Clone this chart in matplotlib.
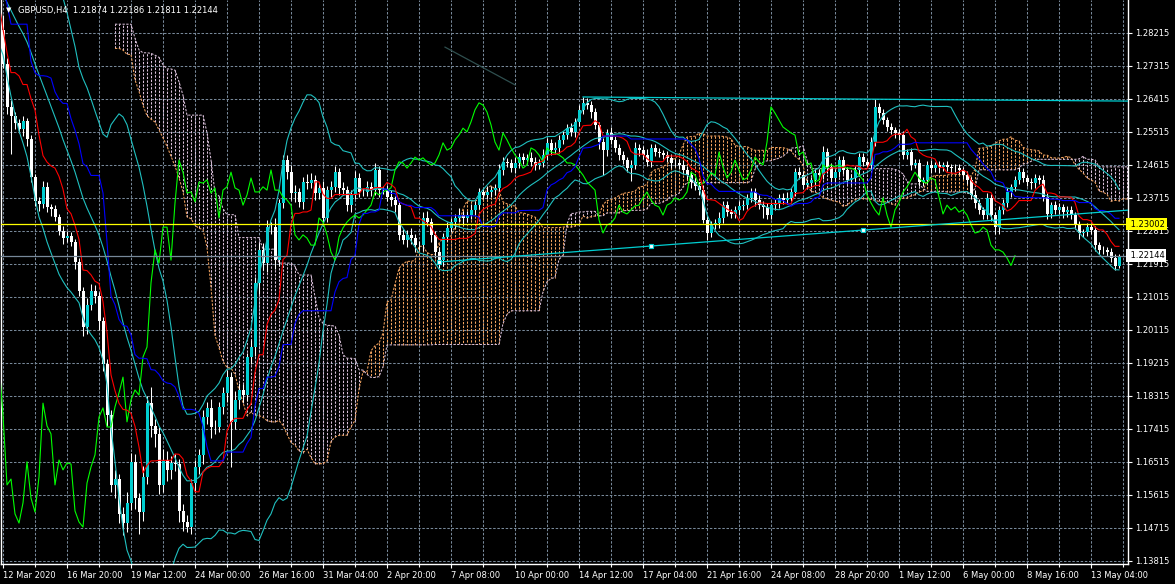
import numpy as np
import pandas as pd
import matplotlib
matplotlib.use("Agg")
import matplotlib.pyplot as plt
import matplotlib.transforms as mtransforms

plt.rcParams["font.family"] = ["DejaVu Sans"]

# header of the chart window
symbol = "GBPUSD,H4"
last_bar = ["1.21874", "1.22186", "1.21811", "1.22144"]

# 49 H4 bars before 12 Mar 2020 - off screen, they only warm up the indicators
# prices are in points (1 pt = 0.0001)
pre_close = [12830, 12790, 12760, 12740, 12800, 12820, 12780, 12760, 12790, 12770,
             12800, 12780, 12810, 12850, 12900, 12860, 12820, 12800, 12810, 12790,
             12830, 12850, 12840, 12830, 12860, 12900, 12950, 13000, 13050, 13080,
             13050, 13040, 13010, 12990, 12980, 12990, 12995, 12980, 12950, 12970,
             12930, 12920, 12890, 12880, 12910, 12840, 12830, 12810, 12830]
pre_upper_wick = [15, 12, 10, 14, 12, 15, 10, 12, 14, 10,
                  12, 10, 15, 14, 12, 10, 12, 10, 14, 12,
                  10, 12, 10, 14, 12, 15, 12, 14, 15, 20,
                  120, 10, 8, 10, 8, 6, 80, 5, 8, 6,
                  42, 5, 4, 6, 26, 8, 10, 12, 30]
pre_lower_wick = [20, 25, 15, 20, 10, 15, 20, 15, 12, 18,
                  10, 15, 12, 10, 15, 20, 15, 12, 10, 15,
                  12, 10, 15, 12, 10, 12, 15, 10, 12, 15,
                  20, 15, 12, 10, 15, 12, 10, 15, 12, 10,
                  15, 12, 10, 15, 12, 20, 15, 18, 12]
first_open = 12850

# visible bars, 12 Mar 2020 .. 13 May 2020
close_pts = [12737, 12620, 12595, 12576, 12560, 12582, 12532, 12429, 12363, 12355,
             12402, 12347, 12342, 12320, 12282, 12262, 12268, 12252, 12197, 12118,
             12020, 12080, 12118, 12104, 12036, 11919, 11780, 11589, 11605, 11510,
             11485, 11540, 11652, 11553, 11515, 11611, 11812, 11750, 11728, 11589,
             11657, 11630, 11649, 11646, 11518, 11488, 11474, 11594, 11638, 11671,
             11774, 11799, 11747, 11747, 11802, 11840, 11883, 11761, 11821, 11848,
             11834, 11938, 11965, 12140, 12230, 12194, 12292, 12292, 12202, 12358,
             12475, 12442, 12385, 12388, 12361, 12415, 12412, 12421, 12385, 12399,
             12317, 12393, 12402, 12442, 12399, 12393, 12352, 12380, 12426, 12388,
             12388, 12402, 12393, 12448, 12393, 12393, 12374, 12366, 12352, 12271,
             12257, 12271, 12262, 12243, 12243, 12317, 12306, 12271, 12224, 12202,
             12265, 12290, 12306, 12317, 12325, 12317, 12325, 12339, 12352, 12388,
             12380, 12388, 12393, 12399, 12448, 12470, 12467, 12453, 12467, 12483,
             12475, 12481, 12470, 12462, 12467, 12489, 12522, 12502, 12508, 12530,
             12543, 12562, 12552, 12579, 12612, 12631, 12625, 12606, 12571, 12524,
             12502, 12549, 12530, 12508, 12489, 12475, 12453, 12462, 12508, 12502,
             12489, 12470, 12508, 12497, 12494, 12489, 12481, 12467, 12467, 12462,
             12448, 12434, 12415, 12404, 12393, 12312, 12276, 12298, 12303, 12317,
             12352, 12333, 12328, 12339, 12350, 12352, 12372, 12388, 12366, 12352,
             12347, 12325, 12352, 12358, 12372, 12366, 12372, 12388, 12442, 12434,
             12407, 12412, 12421, 12440, 12434, 12497, 12456, 12426, 12442, 12475,
             12448, 12421, 12426, 12448, 12483, 12470, 12462, 12524, 12620, 12603,
             12584, 12565, 12557, 12549, 12543, 12489, 12497, 12462, 12467, 12415,
             12421, 12462, 12453, 12462, 12456, 12462, 12456, 12453, 12453, 12448,
             12434, 12421, 12380, 12358, 12339, 12325, 12372, 12325, 12292, 12339,
             12358, 12388, 12402, 12421, 12442, 12426, 12415, 12412, 12426, 12421,
             12374, 12328, 12352, 12339, 12347, 12333, 12339, 12325, 12298, 12276,
             12279, 12292, 12284, 12243, 12230, 12230, 12224, 12208, 12187.4, 12214.4]
upper_wick = [41, 15, 19, 12, 10, 14, 9, 12, 8, 10,
              15, 12, 8, 10, 9, 12, 14, 10, 8, 12,
              10, 18, 20, 16, 12, 10, 14, 12, 25, 15,
              20, 30, 25, 20, 15, 30, 20, 45, 20, 18,
              30, 25, 20, 25, 15, 20, 18, 12, 20, 15,
              20, 15, 25, 18, 12, 15, 20, 15, 25, 20,
              15, 12, 18, 15, 20, 18, 20, 15, 25, 12,
              14, 15, 20, 18, 12, 15, 22, 18, 12, 15,
              20, 12, 15, 18, 12, 15, 10, 12, 20, 15,
              10, 15, 12, 18, 10, 12, 15, 20, 12, 10,
              15, 12, 18, 10, 12, 15, 20, 12, 10, 15,
              12, 15, 10, 12, 18, 10, 12, 15, 10, 12,
              10, 15, 12, 10, 15, 12, 10, 12, 15, 10,
              12, 10, 15, 12, 10, 15, 12, 10, 15, 12,
              10, 12, 15, 10, 12, 16, 12, 10, 12, 8,
              10, 12, 15, 10, 12, 10, 8, 12, 15, 10,
              12, 15, 10, 12, 10, 8, 12, 10, 12, 10,
              12, 10, 8, 12, 10, 15, 12, 10, 12, 15,
              10, 12, 8, 10, 12, 15, 10, 12, 10, 15,
              12, 10, 8, 12, 10, 12, 15, 10, 12, 15,
              12, 10, 8, 12, 10, 15, 12, 10, 8, 12,
              10, 8, 12, 10, 12, 10, 8, 15, 21, 10,
              12, 8, 10, 8, 12, 10, 8, 10, 12, 10,
              8, 10, 12, 8, 10, 8, 10, 8, 12, 10,
              8, 10, 8, 12, 10, 8, 12, 10, 8, 12,
              10, 12, 8, 10, 15, 10, 8, 12, 10, 8,
              12, 10, 8, 12, 10, 8, 10, 12, 8, 10,
              8, 10, 12, 10, 8, 10, 8, 10, 12, 4.2]
lower_wick = [10, 20, 104, 15, 12, 20, 18, 15, 12, 20,
              12, 15, 20, 10, 12, 15, 10, 12, 20, 15,
              25, 20, 15, 20, 25, 20, 30, 20, 35, 25,
              33, 25, 20, 30, 60, 25, 20, 30, 35, 25,
              20, 30, 25, 20, 30, 25, 14, 20, 25, 20,
              25, 20, 30, 20, 15, 20, 25, 123, 20, 25,
              20, 15, 20, 25, 30, 20, 25, 20, 25, 15,
              15, 20, 18, 25, 15, 20, 15, 12, 20, 15,
              15, 12, 18, 15, 20, 12, 15, 18, 12, 15,
              12, 10, 15, 12, 18, 10, 12, 15, 20, 15,
              12, 20, 15, 18, 12, 15, 12, 20, 15, 22,
              15, 12, 10, 15, 12, 18, 10, 12, 15, 10,
              12, 10, 15, 12, 10, 15, 12, 10, 12, 15,
              10, 12, 10, 15, 12, 10, 15, 12, 10, 15,
              12, 10, 12, 15, 10, 12, 10, 15, 12, 20,
              68, 15, 12, 10, 15, 12, 10, 35, 12, 15,
              10, 12, 15, 10, 12, 10, 12, 15, 10, 12,
              10, 12, 15, 10, 12, 10, 20, 12, 10, 12,
              15, 10, 12, 10, 15, 12, 10, 12, 15, 10,
              30, 12, 10, 12, 15, 10, 12, 10, 12, 10,
              10, 12, 15, 10, 12, 10, 15, 12, 10, 12,
              12, 10, 15, 12, 10, 12, 10, 12, 10, 12,
              10, 12, 10, 15, 12, 10, 12, 15, 10, 12,
              12, 10, 12, 10, 15, 12, 10, 12, 10, 12,
              12, 10, 12, 15, 10, 12, 10, 15, 20, 20,
              12, 10, 15, 12, 10, 12, 10, 15, 12, 10,
              12, 15, 10, 12, 10, 15, 12, 10, 12, 15,
              12, 10, 12, 15, 12, 10, 12, 10, 12, 6.3]

time_labels = ["12 Mar 2020", "16 Mar 20:00", "19 Mar 12:00", "24 Mar 00:00",
               "26 Mar 16:00", "31 Mar 04:00", "2 Apr 20:00", "7 Apr 08:00",
               "10 Apr 00:00", "14 Apr 12:00", "17 Apr 04:00", "21 Apr 16:00",
               "24 Apr 08:00", "28 Apr 20:00", "1 May 12:00", "6 May 00:00",
               "8 May 16:00", "13 May 04:00"]
price_ticks = [1.13815, 1.14715, 1.15615, 1.16515, 1.17415, 1.18315, 1.19215,
               1.20115, 1.21015, 1.21915, 1.22815, 1.23715, 1.24615, 1.25515,
               1.26415, 1.27315, 1.28215]
alert_level = 1.23002
bid_level = 1.22144
top_trend = [(145, 1.2647), (218, 1.2641)]
low_trend = [(109, 1.2197), (215, 1.2284)]
old_trend = [(110.5, 1.2783), (128, 1.2680)]

CYAN = "#00ced1"
BAND = "#20c0c0"
GRID = "#778899"

# ---- build OHLC ----
n_pre = len(pre_close)
closes = np.array(pre_close + close_pts) / 1e4
up = np.array(pre_upper_wick + upper_wick) / 1e4
dn = np.array(pre_lower_wick + lower_wick) / 1e4
opens = np.r_[first_open / 1e4, closes[:-1]]
highs = np.maximum(opens, closes) + up
lows = np.minimum(opens, closes) - dn
idx = np.arange(len(closes)) - n_pre
df = pd.DataFrame({"o": opens, "h": highs, "l": lows, "c": closes}, index=idx)


def midline(period):
    return (df.h.rolling(period).max() + df.l.rolling(period).min()) / 2


tenkan = midline(9)
kijun = midline(26)
span_a = (tenkan + kijun) / 2
span_b = midline(52)
sma = df.c.rolling(20).mean()
sd = df.c.rolling(20).std(ddof=0)

# ---- figure ----
fig = plt.figure(figsize=(11.75, 5.84), dpi=100, facecolor="black")
ax = fig.add_axes([1 / 1175, 20 / 584, 1127 / 1175, 564 / 584])
ax.set_facecolor("black")
x_min, x_max = -0.5, 281.25
ax.set_xlim(x_min, x_max)
ax.set_ylim(1.13733, 1.29115)

dash = (0, (2.4, 1.6))
ax.hlines(price_ticks, x_min, x_max, colors=GRID, linestyles=dash, lw=0.75, zorder=0)
ax.vlines(np.arange(0, 282, 8), 1.13733, 1.29115, colors=GRID, linestyles=dash, lw=0.75, zorder=0)

# kumo: dotted histogram between span A and span B
ok = span_a.notna() & span_b.notna()
xs = idx[ok.values] + 26
a = span_a[ok].values
b = span_b[ok].values
hatch_cols = ["#f4a460" if aa > bb else "#d8bfd8" for aa, bb in zip(a, b)]
ax.vlines(xs, a, b, colors=hatch_cols, linestyles=(0, (2.2, 1.4)), lw=0.75, zorder=1)
ax.plot(xs, a, color="#f4a460", lw=0.75, ls=(0, (2.2, 1.4)), zorder=1.1)
ax.plot(xs, b, color="#d8bfd8", lw=0.75, ls=(0, (2.2, 1.4)), zorder=1.1)

# candles
vis = idx >= 0
o, h, l, c, xi = opens[vis], highs[vis], lows[vis], closes[vis], idx[vis]
ax.vlines(xi, l, h, colors="white", lw=0.75, zorder=3)
bull = c > o
ax.bar(xi[bull], (c - o)[bull], bottom=o[bull], width=0.75, color=CYAN, lw=0, zorder=3.2)
ax.bar(xi[~bull], (o - c)[~bull], bottom=c[~bull], width=0.75, color="white", lw=0, zorder=3.2)

# bollinger bands 20/2
for line in (sma, sma + 2 * sd, sma - 2 * sd):
    ax.plot(idx, line.values, color=BAND, lw=0.8, zorder=4)

# ichimoku lines
ax.plot(idx, tenkan.values, color="#ff0000", lw=0.8, zorder=4.2)
ax.plot(idx, kijun.values, color="#0000ff", lw=0.8, zorder=4.2)
ax.plot(idx - 26, closes, color="#00ff00", lw=0.8, zorder=4.1)

# horizontal levels
ax.axhline(alert_level, color="#ffff00", lw=0.9, zorder=5)
ax.axhline(bid_level, color=GRID, lw=0.9, zorder=5)


def ray(points, color, marks=False):
    (x1, y1), (x2, y2) = points
    k = (y2 - y1) / (x2 - x1)
    ax.plot([x1, x_max], [y1, y1 + k * (x_max - x1)], color=color, lw=0.9, zorder=5)
    if marks:
        mx = [x1, (x1 + x2) / 2, x2]
        ax.plot(mx, [y1 + k * (m - x1) for m in mx], "s", ms=3.2, mfc="white",
                mec=CYAN, mew=0.8, zorder=6)


ray(top_trend, CYAN)
ray(low_trend, CYAN, marks=True)
ax.plot([p[0] for p in old_trend], [p[1] for p in old_trend], color="#2f4f4f", lw=0.9, zorder=5)

# axes decoration
for s in ("left", "right", "bottom"):
    ax.spines[s].set_color("white")
    ax.spines[s].set_linewidth(1)
ax.spines["top"].set_visible(False)
ax.yaxis.tick_right()
ax.set_yticks(price_ticks)
ax.set_yticklabels([f"{p:.5f}" for p in price_ticks])
ax.tick_params(axis="y", colors="white", labelsize=6, length=3, width=0.8, pad=2)
ax.set_xticks(np.arange(len(time_labels)) * 16)
ax.set_xticklabels(time_labels, ha="left")
ax.set_xticks(np.arange(len(time_labels)) * 16 + 8, minor=True)
ax.tick_params(axis="x", colors="white", labelsize=6, length=3, width=0.8, pad=2)
ax.tick_params(axis="x", which="minor", colors="white", length=2, width=0.8)

lbl = mtransforms.blended_transform_factory(ax.transAxes, ax.transData)
ax.text(1.0, alert_level, " " + f"{alert_level:.5f}", transform=lbl, fontsize=6,
        color="black", va="center", ha="left", zorder=7, clip_on=False,
        bbox=dict(boxstyle="square,pad=0.2", fc="#ffff00", ec="none"))
ax.text(1.0, bid_level, " " + f"{bid_level:.5f}", transform=lbl, fontsize=6,
        color="black", va="center", ha="left", zorder=7, clip_on=False,
        bbox=dict(boxstyle="square,pad=0.2", fc="white", ec="none"))

fig.text(6 / 1175, 1 - 10 / 584, "\u25bc", color="white", fontsize=5, va="center")
fig.text(18 / 1175, 1 - 10 / 584, symbol + "  " + " ".join(last_bar),
         color="white", fontsize=6, va="center")

fig.savefig("out.png", dpi=100, facecolor="black")
